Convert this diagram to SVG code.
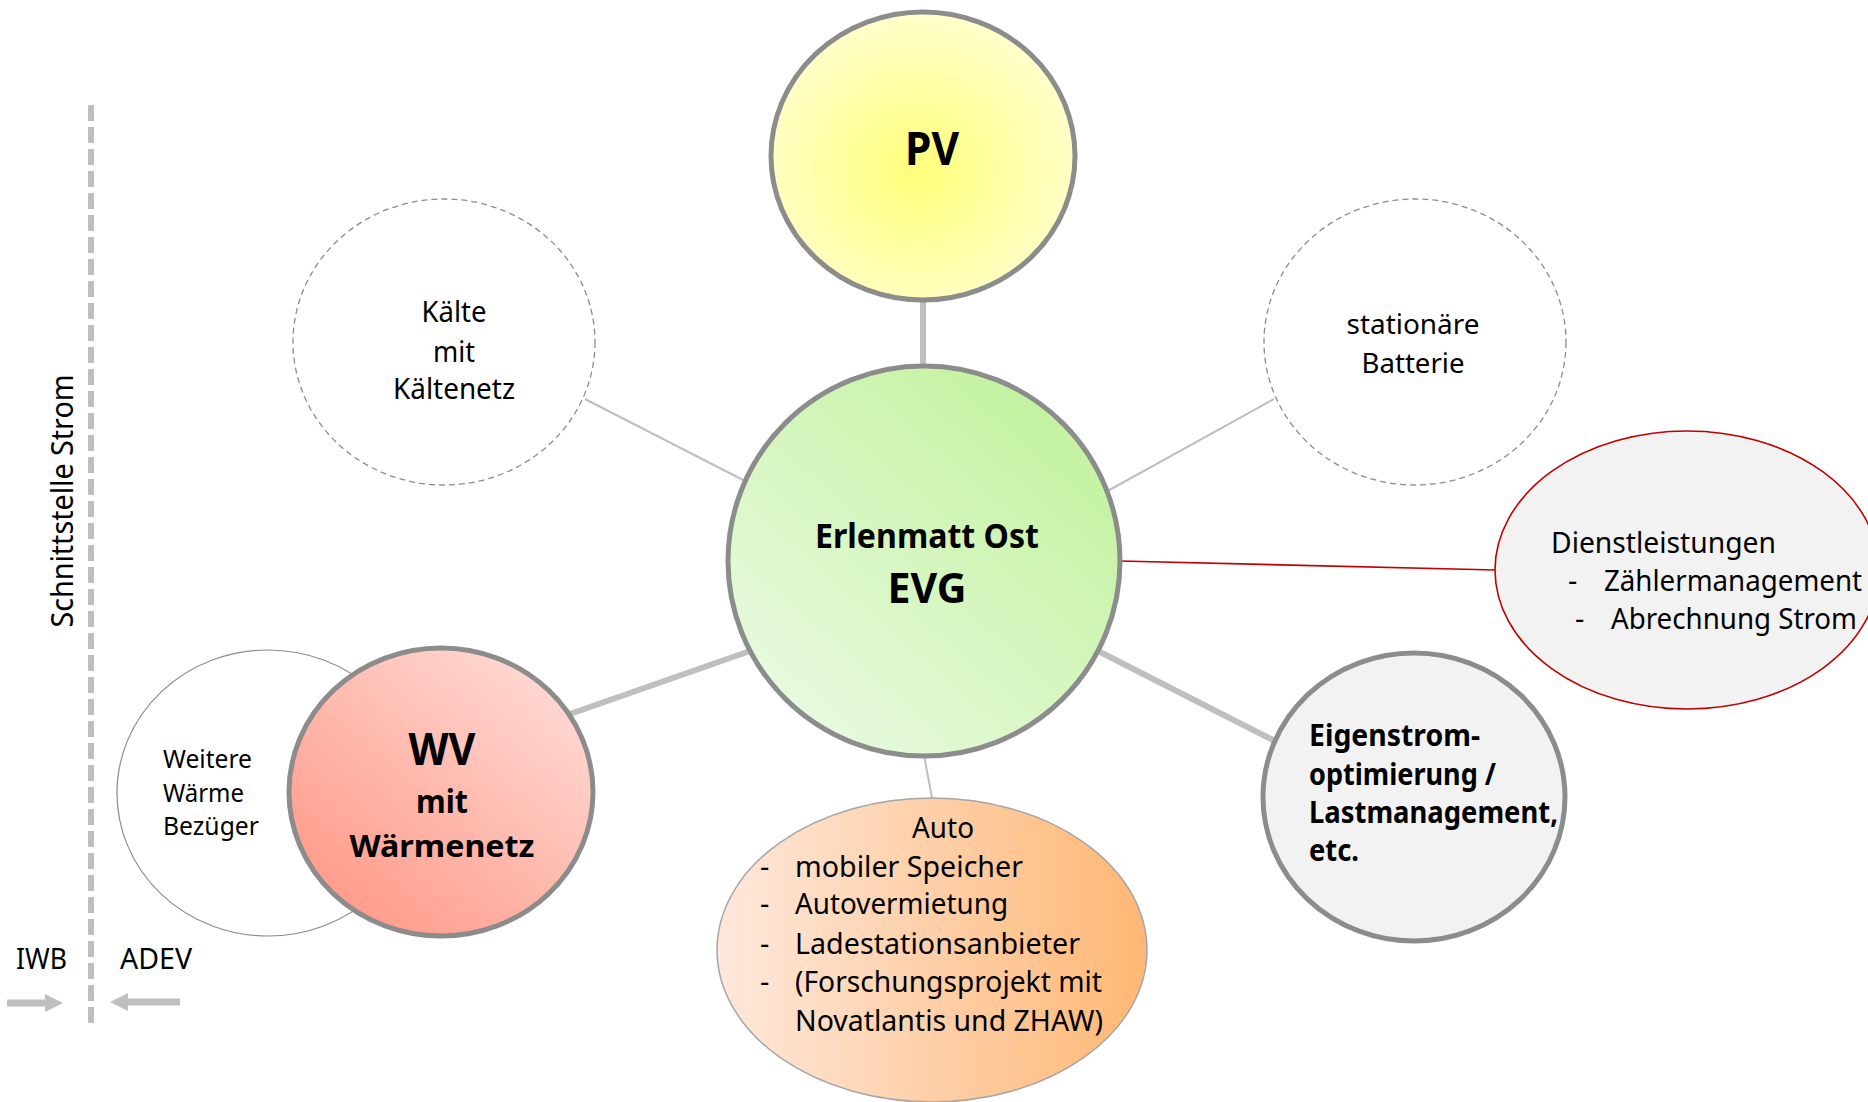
<svg xmlns="http://www.w3.org/2000/svg" width="1868" height="1102" viewBox="0 0 1868 1102">
<style>
text{font-family:"Noto Sans","Open Sans","DejaVu Sans",sans-serif;fill:#000}
.b{font-weight:bold}
.thick{stroke:#bfbfbf;stroke-width:6;fill:none}
.thin{stroke:#bfbfbf;stroke-width:2;fill:none}
.main{stroke:#8c8c8c;stroke-width:5}
.dash{fill:#fff;stroke:#8c8c8c;stroke-width:1.3;stroke-dasharray:6 4}
.arr{fill:#bfbfbf}
</style>
<defs>
<radialGradient id="gPV" cx="0.48" cy="0.55" r="0.55">
<stop offset="0" stop-color="#ffff7a"/>
<stop offset="1" stop-color="#ffffcc"/>
</radialGradient>
<linearGradient id="gEVG" x1="0.85" y1="0.1" x2="0.15" y2="0.9">
<stop offset="0" stop-color="#c3f29f"/>
<stop offset="1" stop-color="#e8fadf"/>
</linearGradient>
<linearGradient id="gWV" x1="0.15" y1="0.9" x2="0.85" y2="0.1">
<stop offset="0" stop-color="#ff9b8a"/>
<stop offset="1" stop-color="#ffd8d2"/>
</linearGradient>
<linearGradient id="gAuto" x1="0" y1="0" x2="1" y2="0">
<stop offset="0" stop-color="#fde8dc"/>
<stop offset="1" stop-color="#ffb774"/>
</linearGradient>
</defs>

<g id="connectors">
<line class="thick" x1="923" y1="300" x2="923" y2="368"/>
<line class="thin" x1="585" y1="399" x2="745" y2="481"/>
<line class="thin" x1="1274" y1="399" x2="1104" y2="493"/>
<line class="thick" x1="570" y1="714" x2="750" y2="651"/>
<line class="thick" x1="1273" y1="740" x2="1100" y2="652"/>
<line class="thin" x1="924" y1="755" x2="932" y2="798"/>
<line x1="1120" y1="561" x2="1496" y2="570" stroke="#c00000" stroke-width="1.6"/>
</g>

<g id="interface">
<line x1="91" y1="105" x2="91" y2="1023" stroke="#bfbfbf" stroke-width="6" stroke-dasharray="16 6"/>
<text transform="translate(73,501) rotate(-90)" font-size="30" text-anchor="middle" textLength="253" lengthAdjust="spacingAndGlyphs">Schnittstelle Strom</text>
<text x="16" y="969" font-size="29" textLength="51" lengthAdjust="spacingAndGlyphs">IWB</text>
<text x="120" y="969" font-size="29" textLength="72" lengthAdjust="spacingAndGlyphs">ADEV</text>
<path class="arr" d="M7,999.5 H45 V994 L63,1003 L45,1012 V1006.5 H7 Z"/>
<path class="arr" d="M180,998.5 H128 V993 L110,1002 L128,1011 V1005.5 H180 Z"/>
</g>

<g id="pv">
<ellipse cx="923" cy="156" rx="152" ry="144" fill="url(#gPV)" class="main"/>
<text x="932" y="165" font-size="46" class="b" text-anchor="middle" textLength="54" lengthAdjust="spacingAndGlyphs">PV</text>
</g>

<g id="kaelte">
<ellipse cx="444" cy="342" rx="151" ry="143" class="dash"/>
<text x="454" y="322" font-size="29" text-anchor="middle" textLength="65" lengthAdjust="spacingAndGlyphs">Kälte</text>
<text x="454" y="362" font-size="29" text-anchor="middle" textLength="42" lengthAdjust="spacingAndGlyphs">mit</text>
<text x="454" y="399" font-size="29" text-anchor="middle" textLength="122" lengthAdjust="spacingAndGlyphs">Kältenetz</text>
</g>

<g id="batterie">
<ellipse cx="1415" cy="342" rx="151" ry="143" class="dash"/>
<text x="1413" y="334" font-size="28" text-anchor="middle" textLength="133" lengthAdjust="spacingAndGlyphs">stationäre</text>
<text x="1413" y="373" font-size="28" text-anchor="middle" textLength="103" lengthAdjust="spacingAndGlyphs">Batterie</text>
</g>

<g id="dienstleistungen">
<ellipse cx="1687" cy="570" rx="192" ry="139" fill="#f2f2f2" stroke="#c00000" stroke-width="1.6"/>
<text x="1551" y="553" font-size="29" textLength="225" lengthAdjust="spacingAndGlyphs">Dienstleistungen</text>
<text x="1568" y="591" font-size="29">-</text>
<text x="1604" y="591" font-size="29" textLength="258" lengthAdjust="spacingAndGlyphs">Zählermanagement</text>
<text x="1575" y="629" font-size="29">-</text>
<text x="1611" y="629" font-size="29" textLength="246" lengthAdjust="spacingAndGlyphs">Abrechnung Strom</text>
</g>

<g id="evg">
<ellipse cx="924" cy="561" rx="196" ry="195" fill="url(#gEVG)" class="main"/>
<text x="927" y="548" font-size="34" class="b" text-anchor="middle" textLength="224" lengthAdjust="spacingAndGlyphs">Erlenmatt Ost</text>
<text x="927" y="603" font-size="41" class="b" text-anchor="middle" textLength="79" lengthAdjust="spacingAndGlyphs">EVG</text>
</g>

<g id="weitere">
<ellipse cx="268" cy="793" rx="151" ry="143" fill="#fff" stroke="#8c8c8c" stroke-width="1.2"/>
<text x="163" y="768" font-size="25" textLength="89" lengthAdjust="spacingAndGlyphs">Weitere</text>
<text x="163" y="802" font-size="25" textLength="81" lengthAdjust="spacingAndGlyphs">Wärme</text>
<text x="163" y="835" font-size="25" textLength="96" lengthAdjust="spacingAndGlyphs">Bezüger</text>
</g>

<g id="wv">
<ellipse cx="441" cy="792" rx="152" ry="144" fill="url(#gWV)" class="main"/>
<text x="442" y="765" font-size="44" class="b" text-anchor="middle" textLength="67" lengthAdjust="spacingAndGlyphs">WV</text>
<text x="442" y="813" font-size="33" class="b" text-anchor="middle" textLength="52" lengthAdjust="spacingAndGlyphs">mit</text>
<text x="442" y="857" font-size="31" class="b" text-anchor="middle" textLength="185" lengthAdjust="spacingAndGlyphs">Wärmenetz</text>
</g>

<g id="auto">
<ellipse cx="932" cy="950" rx="215" ry="152" fill="url(#gAuto)" stroke="#a6a6a6" stroke-width="1.5"/>
<text x="943" y="838" font-size="29" text-anchor="middle" textLength="62" lengthAdjust="spacingAndGlyphs">Auto</text>
<text x="760" y="877" font-size="29">-</text>
<text x="795" y="877" font-size="29" textLength="228" lengthAdjust="spacingAndGlyphs">mobiler Speicher</text>
<text x="760" y="914" font-size="29">-</text>
<text x="795" y="914" font-size="29" textLength="213" lengthAdjust="spacingAndGlyphs">Autovermietung</text>
<text x="760" y="954" font-size="29">-</text>
<text x="795" y="954" font-size="29" textLength="285" lengthAdjust="spacingAndGlyphs">Ladestationsanbieter</text>
<text x="760" y="992" font-size="29">-</text>
<text x="795" y="992" font-size="29" textLength="307" lengthAdjust="spacingAndGlyphs">(Forschungsprojekt mit</text>
<text x="795" y="1031" font-size="29" textLength="308" lengthAdjust="spacingAndGlyphs">Novatlantis und ZHAW)</text>
</g>

<g id="eigenstrom">
<ellipse cx="1414" cy="797" rx="151" ry="144" fill="#f2f2f2" class="main"/>
<text x="1309" y="746" font-size="31" class="b" textLength="171" lengthAdjust="spacingAndGlyphs">Eigenstrom-</text>
<text x="1309" y="785" font-size="31" class="b" textLength="187" lengthAdjust="spacingAndGlyphs">optimierung /</text>
<text x="1309" y="823" font-size="31" class="b" textLength="249" lengthAdjust="spacingAndGlyphs">Lastmanagement,</text>
<text x="1309" y="861" font-size="31" class="b" textLength="50" lengthAdjust="spacingAndGlyphs">etc.</text>
</g>
</svg>
